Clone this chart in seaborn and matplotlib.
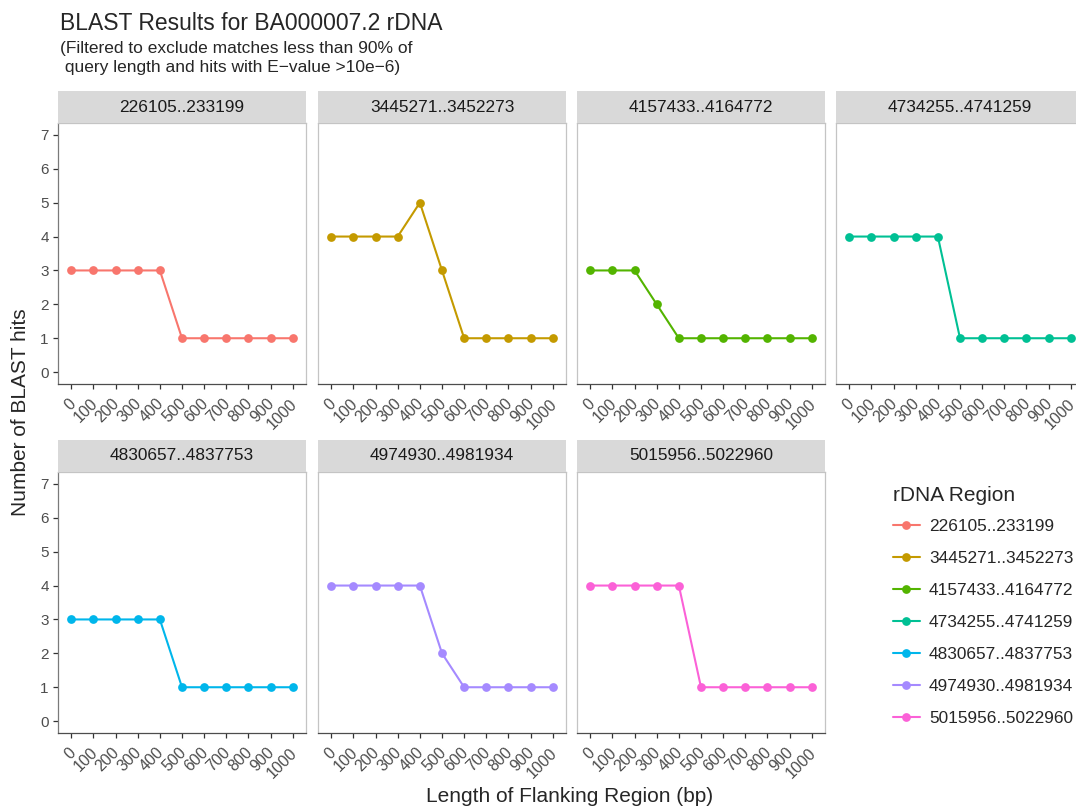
import matplotlib
matplotlib.use("Agg")
import matplotlib.transforms as mtransforms
import pandas as pd
import seaborn as sns
from matplotlib import pyplot as plt
from matplotlib.lines import Line2D

# flanking lengths (discrete x axis)
flank = [0, 100, 200, 300, 400, 500, 600, 700, 800, 900, 1000]

regions = [
    "226105..233199",
    "3445271..3452273",
    "4157433..4164772",
    "4734255..4741259",
    "4830657..4837753",
    "4974930..4981934",
    "5015956..5022960",
]

hits_226105 = [3, 3, 3, 3, 3, 1, 1, 1, 1, 1, 1]
hits_3445271 = [4, 4, 4, 4, 5, 3, 1, 1, 1, 1, 1]
hits_4157433 = [3, 3, 3, 2, 1, 1, 1, 1, 1, 1, 1]
hits_4734255 = [4, 4, 4, 4, 4, 1, 1, 1, 1, 1, 1]
hits_4830657 = [3, 3, 3, 3, 3, 1, 1, 1, 1, 1, 1]
hits_4974930 = [4, 4, 4, 4, 4, 2, 1, 1, 1, 1, 1]
hits_5015956 = [4, 4, 4, 4, 4, 1, 1, 1, 1, 1, 1]

colors = ["#F8766D", "#C49A00", "#53B400", "#00C094", "#00B6EB", "#A58AFF", "#FB61D7"]

all_hits = [hits_226105, hits_3445271, hits_4157433, hits_4734255,
            hits_4830657, hits_4974930, hits_5015956]

rows = []
for region, hits in zip(regions, all_hits):
    for i, (f, h) in enumerate(zip(flank, hits)):
        rows.append({"region": region, "pos": i, "flank": f, "hits": h})
df = pd.DataFrame(rows)
palette = dict(zip(regions, colors))

sns.set_style("white")
plt.rcParams["font.family"] = ["Liberation Sans", "DejaVu Sans"]

W, H = 1076, 810
fig = plt.figure(figsize=(W / 100, H / 100), dpi=100)


def box(x0, y0, x1, y1):
    # pixel coords (top-left origin) -> figure fraction rect
    return [x0 / W, 1 - y1 / H, (x1 - x0) / W, (y1 - y0) / H]


col_left = [58, 318, 577, 836]
panel_w = 248
row_top = [123, 472]
panel_h = 261
strip_h = 32

for k, region in enumerate(regions):
    r, c = divmod(k, 4)
    x0 = col_left[c]
    y0 = row_top[r]
    ax = fig.add_axes(box(x0, y0, x0 + panel_w, y0 + panel_h))
    sub = df[df["region"] == region]
    sns.lineplot(data=sub, x="pos", y="hits", hue="region", palette=palette,
                 marker="o", markersize=6.3, markeredgewidth=0, linewidth=1.5,
                 legend=False, ax=ax)
    ax.set_xlim(-0.6, len(flank) - 1 + 0.6)
    ax.set_ylim(-0.35, 7.35)
    ax.set_xticks(range(len(flank)))
    ax.set_yticks(range(0, 8))
    ax.set_xlabel("")
    ax.set_ylabel("")
    ax.grid(False)
    for s in ax.spines.values():
        s.set_color("#c4c4c4")
        s.set_linewidth(0.9)
    ax.spines["bottom"].set_color("#4d4d4d")
    if c == 0:
        ax.spines["left"].set_color("#7a7a7a")
    ax.tick_params(axis="both", length=3.6, width=0.9, color="#333333",
                   labelcolor="#4d4d4d", pad=3, bottom=True, left=True)
    ax.tick_params(axis="x", labelsize=11.5, pad=5)
    ax.tick_params(axis="y", labelsize=11)
    offset = mtransforms.ScaledTranslation(7 / 100, 0, fig.dpi_scale_trans)
    ax.set_xticklabels([str(f) for f in flank], rotation=45, ha="right")
    for lab in ax.get_xticklabels():
        lab.set_transform(lab.get_transform() + offset)
    if c != 0:
        ax.set_yticklabels([])
        ax.tick_params(axis="y", length=0)

    # facet strip
    sax = fig.add_axes(box(x0, y0 - strip_h, x0 + panel_w, y0))
    sax.set_facecolor("#D9D9D9")
    sax.set_xticks([])
    sax.set_yticks([])
    for s in sax.spines.values():
        s.set_visible(False)
    sax.text(0.5, 0.5, region, ha="center", va="center", fontsize=12.4,
             color="#1a1a1a", transform=sax.transAxes)

fig.text(60 / W, 1 - 23 / H, "BLAST Results for BA000007.2 rDNA", fontsize=16.5,
         ha="left", va="center")
fig.text(60 / W, 1 - 48.5 / H, "(Filtered to exclude matches less than 90% of",
         fontsize=12.5, ha="left", va="center")
fig.text(60 / W, 1 - 67.5 / H, " query length and hits with E\u2212value >10e\u22126)",
         fontsize=12.5, ha="left", va="center")
fig.text(570 / W, 1 - 797 / H, "Length of Flanking Region (bp)", fontsize=15,
         ha="center", va="center")
fig.text(21 / W, 1 - 412 / H, "Number of BLAST hits", fontsize=15,
         ha="center", va="center", rotation=90)

handles = [Line2D([0], [0], color=col, lw=1.5, marker="o", markersize=6.3,
                  markeredgewidth=0) for col in colors]
leg = fig.legend(handles, regions, title="rDNA Region", loc="upper left",
                 bbox_to_anchor=(886 / W, 1 - 479 / H), frameon=False,
                 fontsize=12.4, title_fontsize=15, handlelength=1.55,
                 handletextpad=0.55, labelspacing=0.99, borderaxespad=0)
leg._legend_box.align = "left"
leg._legend_box.sep = 10

fig.savefig("out.png", dpi=100)
